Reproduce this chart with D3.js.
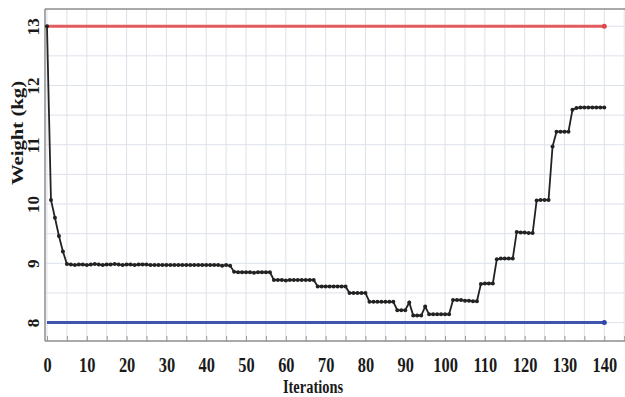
<!DOCTYPE html>
<html>
<head>
<meta charset="utf-8">
<script src="https://cdn.jsdelivr.net/npm/d3@7"></script>
<style>
  body { margin: 0; background: #fff; }
  text { font-family: 'Liberation Serif', 'Times New Roman', serif; font-weight: bold; fill: #1a1a1a; }
</style>
</head>
<body>
<script>
// weight per iteration (index = iteration number)
const weights = [
  13.00, 10.07, 9.77, 9.46, 9.20, 8.99,
  8.98, 8.97, 8.98, 8.98, 8.97, 8.98, 8.99, 8.98, 8.97, 8.98,
  8.98, 8.99, 8.98, 8.97, 8.98, 8.98, 8.97, 8.98, 8.98, 8.98,
  8.97, 8.97, 8.97, 8.97, 8.97, 8.97, 8.97, 8.97, 8.97, 8.97,
  8.97, 8.97, 8.97, 8.97, 8.97, 8.97, 8.97, 8.97, 8.96, 8.97, 8.96,
  8.86, 8.85, 8.85, 8.85, 8.85, 8.84, 8.85, 8.85, 8.85, 8.85,
  8.72, 8.72, 8.72, 8.71, 8.72, 8.72, 8.72, 8.72, 8.72, 8.72, 8.72,
  8.61, 8.61, 8.61, 8.61, 8.61, 8.61, 8.61, 8.61,
  8.50, 8.50, 8.50, 8.50, 8.50,
  8.35, 8.35, 8.35, 8.35, 8.35, 8.35, 8.35,
  8.21, 8.21, 8.21,
  8.34,
  8.12, 8.12, 8.12,
  8.27,
  8.14, 8.14, 8.14, 8.14, 8.14, 8.14,
  8.38, 8.38, 8.38, 8.37, 8.37, 8.36, 8.36,
  8.65, 8.66, 8.66, 8.66,
  9.07, 9.08, 9.08, 9.08, 9.08,
  9.53, 9.52, 9.52, 9.51, 9.51,
  10.06, 10.07, 10.07, 10.07,
  10.97,
  11.22, 11.22, 11.22, 11.22,
  11.59,
  11.62, 11.63, 11.63, 11.63, 11.63, 11.63, 11.63, 11.63
];

const limitIters = [0, 140];
const upperLimit = [13, 13];
const lowerLimit = [8, 8];

const xTicks = [0, 10, 20, 30, 40, 50, 60, 70, 80, 90, 100, 110, 120, 130, 140];
const yTicks = [8, 9, 10, 11, 12, 13];

const W = 625, H = 397;
const plot = { left: 45, right: 625, top: 9, bottom: 341 };

const svg = d3.select('body').append('svg')
  .attr('width', W)
  .attr('height', H);

const x = d3.scaleLinear().domain([-0.5, 145.2]).range([plot.left, plot.right]);
const y = d3.scaleLinear().domain([7.69, 13.29]).range([plot.bottom, plot.top]);

// grid
const grid = svg.append('g').attr('stroke', '#dde1ea').attr('stroke-width', 1);
grid.selectAll('line.v')
  .data(d3.range(0, 146, 5))
  .enter().append('line')
  .attr('x1', d => x(d)).attr('x2', d => x(d))
  .attr('y1', plot.top).attr('y2', plot.bottom);
grid.selectAll('line.h')
  .data(d3.range(8, 13.01, 0.5))
  .enter().append('line')
  .attr('x1', plot.left).attr('x2', plot.right)
  .attr('y1', d => y(d)).attr('y2', d => y(d));

// small inward ticks on the bottom axis
const xMinor = svg.append('g')
  .attr('transform', `translate(0, ${plot.bottom})`)
  .call(d3.axisBottom(x).tickValues(d3.range(0, 146, 5)).tickSize(-5).tickFormat(''));
xMinor.select('.domain').remove();
xMinor.selectAll('line').attr('stroke', '#9a9a9a');

// frame
svg.append('line')
  .attr('x1', plot.left).attr('x2', plot.right)
  .attr('y1', plot.top).attr('y2', plot.top)
  .attr('stroke', '#8c8c8c').attr('stroke-width', 1.5);
svg.append('line')
  .attr('x1', plot.left).attr('x2', plot.right)
  .attr('y1', plot.bottom).attr('y2', plot.bottom)
  .attr('stroke', '#8c8c8c').attr('stroke-width', 1.5);
svg.append('line')
  .attr('x1', plot.left).attr('x2', plot.left)
  .attr('y1', plot.top).attr('y2', plot.bottom)
  .attr('stroke', '#8c8c8c').attr('stroke-width', 1.5);

// limit lines
const limLine = d3.line().x((d, i) => x(limitIters[i])).y(d => y(d));
svg.append('path')
  .datum(upperLimit)
  .attr('d', limLine)
  .attr('fill', 'none')
  .attr('stroke', '#e25c5f')
  .attr('stroke-width', 3);
svg.append('circle')
  .attr('cx', x(limitIters[1])).attr('cy', y(upperLimit[1]))
  .attr('r', 2.5).attr('fill', '#e0474d');
svg.append('path')
  .datum(lowerLimit)
  .attr('d', limLine)
  .attr('fill', 'none')
  .attr('stroke', '#3d55ad')
  .attr('stroke-width', 3);
svg.append('circle')
  .attr('cx', x(limitIters[1])).attr('cy', y(lowerLimit[1]))
  .attr('r', 2.5).attr('fill', '#2f47a8');

// weight line
const line = d3.line().x((d, i) => x(i)).y(d => y(d));
svg.append('path')
  .datum(weights)
  .attr('d', line)
  .attr('fill', 'none')
  .attr('stroke', '#222')
  .attr('stroke-width', 1.8);
svg.selectAll('circle.pt')
  .data(weights)
  .enter().append('circle')
  .attr('class', 'pt')
  .attr('cx', (d, i) => x(i))
  .attr('cy', d => y(d))
  .attr('r', 2)
  .attr('fill', '#222');

// x axis labels
const xAxis = svg.append('g')
  .attr('transform', `translate(0, ${plot.bottom})`)
  .call(d3.axisBottom(x).tickValues(xTicks).tickSize(0).tickPadding(0));
xAxis.select('.domain').remove();
xAxis.selectAll('text')
  .attr('y', 31)
  .attr('dy', 0)
  .style('font-size', '21px')
  .attr('transform', 'scale(0.78,1)')
  .attr('x', 0);

// y axis labels, rotated
const yAxis = svg.append('g')
  .attr('transform', `translate(${plot.left}, 0)`)
  .call(d3.axisLeft(y).tickValues(yTicks).tickFormat(d3.format('d')).tickSize(0));
yAxis.select('.domain').remove();
yAxis.selectAll('text')
  .attr('x', 0)
  .attr('y', -6)
  .attr('dy', 0)
  .attr('text-anchor', 'middle')
  .attr('transform', 'rotate(-90)')
  .style('font-size', '17px');

// titles
svg.append('text')
  .attr('transform', `translate(${(282 + 344) / 2}, 393) scale(0.76,1)`)
  .attr('text-anchor', 'middle')
  .style('font-size', '19px')
  .text('Iterations');

svg.append('text')
  .attr('transform', 'translate(23, 133) rotate(-90) scale(1.22,1)')
  .attr('text-anchor', 'middle')
  .style('font-size', '17px')
  .text('Weight (kg)');
</script>
</body>
</html>
